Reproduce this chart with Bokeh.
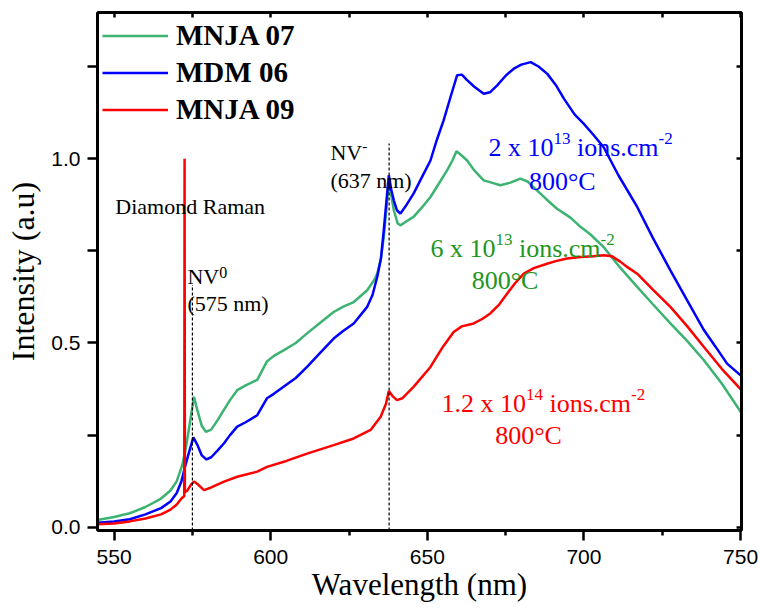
from bokeh.plotting import figure
from bokeh.models import (Range1d, FixedTicker, LinearAxis, Legend, LegendItem,
                          Label, PrintfTickFormatter)
from bokeh.embed import file_html
from bokeh.resources import INLINE

# ---------------- data ----------------
green_wl = [544.7, 550, 555, 560, 565, 568, 570, 571.8, 573, 574.5, 575.5, 576.5, 578, 579.3,
            581, 583, 585, 587, 589.3, 592, 595.7, 598.8, 601, 604.1, 608, 611.6, 616, 620.1,
            623, 626.5, 630.8, 633, 634, 635.2, 636.1, 637, 637.7, 638.5, 639.3, 640.5, 641.4,
            643, 645.6, 648, 651, 653.5, 656.3, 658, 659.3, 660.5, 662.7, 665, 668, 670.5,
            673.3, 676.5, 679.7, 682, 685, 688, 691.4, 695.7, 698.9, 702, 706.3, 711.5, 717,
            722, 727.6, 733, 738.3, 744, 750.3]
green_int = [0.020, 0.028, 0.038, 0.055, 0.078, 0.100, 0.125, 0.170, 0.220, 0.300, 0.354, 0.320,
             0.275, 0.259, 0.265, 0.290, 0.318, 0.345, 0.372, 0.385, 0.400, 0.450, 0.465, 0.480,
             0.500, 0.526, 0.556, 0.584, 0.598, 0.611, 0.643, 0.670, 0.688, 0.730, 0.788, 0.870,
             0.940, 0.900, 0.860, 0.825, 0.819, 0.828, 0.842, 0.865, 0.896, 0.930, 0.968, 0.995,
             1.020, 1.012, 0.995, 0.968, 0.941, 0.935, 0.928, 0.935, 0.946, 0.938, 0.914, 0.890,
             0.864, 0.840, 0.815, 0.795, 0.760, 0.705, 0.652, 0.605, 0.553, 0.505, 0.453, 0.390,
             0.310]

blue_wl = [544.7, 550, 555, 560, 565, 568, 570, 571.5, 572.5, 573.8, 575.3, 576.5, 578, 579.5,
           581, 583, 585.1, 587, 589.3, 592, 595.7, 598.8, 601, 604.1, 608, 611.6, 616, 620.1,
           623, 626.5, 630.8, 632.5, 634, 635.2, 636.1, 637, 637.7, 638.5, 639.3, 640.3, 641.4,
           643, 645.6, 648, 651, 653, 655.2, 657.5, 659.5, 661, 662.7, 665, 668, 670, 672.3,
           675, 677.6, 680, 683, 685.5, 688.3, 691, 693.6, 697, 699.9, 703, 706.3, 711, 717,
           722, 727.6, 733, 738.3, 742, 745.7, 750.3]
blue_int = [0.012, 0.016, 0.022, 0.035, 0.052, 0.070, 0.093, 0.125, 0.160, 0.200, 0.244, 0.225,
            0.195, 0.184, 0.190, 0.208, 0.228, 0.250, 0.273, 0.285, 0.304, 0.350, 0.362, 0.381,
            0.405, 0.435, 0.475, 0.512, 0.532, 0.553, 0.598, 0.630, 0.679, 0.730, 0.806, 0.890,
            0.955, 0.915, 0.887, 0.860, 0.851, 0.870, 0.905, 0.945, 0.995, 1.050, 1.104, 1.170,
            1.226, 1.228, 1.213, 1.195, 1.176, 1.180, 1.199, 1.225, 1.244, 1.255, 1.262, 1.250,
            1.230, 1.200, 1.163, 1.120, 1.095, 1.065, 1.031, 0.955, 0.869, 0.785, 0.697, 0.615,
            0.535, 0.490, 0.444, 0.410]

red_wl = [544.7, 550, 555, 560, 565, 568, 570, 571.5, 572.4, 572.5, 572.6, 573.4, 574.5, 575.5,
          576.5, 578.7, 581, 585.1, 589.3, 595.7, 598.8, 605, 611.6, 620.1, 626.5, 631.9, 635.1,
          636.8, 637.7, 639, 640.3, 642, 645.6, 651, 655, 658.4, 661, 664.8, 667.5, 670.1, 673,
          675.5, 678, 680.8, 684, 688.2, 691, 694.6, 698.9, 703, 706.3, 709, 711.7, 714, 717,
          722, 727.6, 733, 738.3, 744, 750.3]
red_int = [0.008, 0.010, 0.016, 0.024, 0.035, 0.048, 0.062, 0.078, 0.085, 1.000, 0.095, 0.100,
           0.115, 0.124, 0.118, 0.101, 0.108, 0.124, 0.137, 0.151, 0.164, 0.180, 0.200, 0.223,
           0.241, 0.264, 0.300, 0.335, 0.370, 0.355, 0.345, 0.350, 0.381, 0.435, 0.490, 0.530,
           0.545, 0.553, 0.565, 0.580, 0.605, 0.634, 0.662, 0.688, 0.703, 0.715, 0.722, 0.729,
           0.733, 0.735, 0.738, 0.735, 0.720, 0.705, 0.688, 0.645, 0.598, 0.545, 0.489, 0.430,
           0.372]

series_names = ["MNJA 07", "MDM 06", "MNJA 09"]
x_ticks = [550, 600, 650, 700, 750]
x_minor = [575, 625, 675, 725]
y_ticks = [0.0, 0.5, 1.0]
y_minor = [0.25, 0.75, 1.25]

nv_line_x = [575.0, 637.8]
nv_line_top = [0.657, 1.041]

# ---------------- styles ----------------
GREEN = "#3CB371"
BLUE = "#0000FF"
RED = "#FF0000"
GREEN_TXT = "#1E961E"
SERIF = "Liberation Serif"
SANS = "Liberation Sans"

X0, X1 = 544.7, 750.3
Y0, Y1 = -0.0087, 1.3965

p = figure(width=758, height=608, output_backend="svg", toolbar_location=None,
           x_range=Range1d(X0, X1), y_range=Range1d(Y0, Y1),
           min_border_left=97, min_border_right=17, min_border_top=12, min_border_bottom=78)
p.xgrid.visible = False
p.ygrid.visible = False
p.outline_line_color = "black"
p.outline_line_width = 2.5
p.background_fill_color = "white"
p.border_fill_color = "white"

# curves
rg = p.line(green_wl, green_int, line_color=GREEN, line_width=2.5)
rb = p.line(blue_wl, blue_int, line_color=BLUE, line_width=2.5)
rr = p.line(red_wl, red_int, line_color=RED, line_width=2.5)

# dashed marker lines
p.segment(x0=nv_line_x, y0=[Y0] * len(nv_line_x), x1=nv_line_x, y1=nv_line_top,
          line_color="black", line_width=1.2, line_dash="3 2")

# ---------------- axes ----------------
xt = FixedTicker(ticks=x_ticks, minor_ticks=x_minor)
yt = FixedTicker(ticks=y_ticks, minor_ticks=y_minor)

xa = p.xaxis[0]
xa.ticker = xt
xa.axis_label = "Wavelength (nm)"
xa.axis_label_text_font = SERIF
xa.axis_label_text_font_size = "31px"
xa.axis_label_text_font_style = "normal"
xa.axis_label_text_color = "black"
xa.axis_label_standoff = 0
xa.major_label_text_font = SANS
xa.major_label_text_font_size = "21px"
xa.major_label_text_color = "black"
xa.major_label_standoff = 9
xa.major_tick_out = 10
xa.major_tick_in = 0
xa.minor_tick_out = 5
xa.minor_tick_in = 0
xa.axis_line_width = 3
xa.major_tick_line_width = 2.5
xa.minor_tick_line_width = 2.5

ya = p.yaxis[0]
ya.ticker = yt
ya.formatter = PrintfTickFormatter(format="%.1f")
ya.axis_label = "Intensity (a.u)"
ya.axis_label_text_font = SERIF
ya.axis_label_text_font_size = "32px"
ya.axis_label_text_font_style = "normal"
ya.axis_label_text_color = "black"
ya.axis_label_standoff = 7
ya.major_label_text_font = SANS
ya.major_label_text_font_size = "21px"
ya.major_label_text_color = "black"
ya.major_label_standoff = 7
ya.major_tick_out = 10
ya.major_tick_in = 0
ya.minor_tick_out = 10
ya.minor_tick_in = 0
ya.axis_line_width = 3
ya.major_tick_line_width = 2.5
ya.minor_tick_line_width = 2.5

for loc, tk in (("right", yt), ("above", xt)):
    ax = LinearAxis(ticker=tk, major_label_text_font_size="1px", major_label_text_color=None,
                    major_label_standoff=0,
                    major_tick_in=5, major_tick_out=0, minor_tick_in=5, minor_tick_out=0,
                    axis_line_width=3, major_tick_line_width=2.5, minor_tick_line_width=2.5)
    p.add_layout(ax, loc)

# ---------------- legend ----------------
legend = Legend(items=[LegendItem(label=series_names[0], renderers=[rg]),
                       LegendItem(label=series_names[1], renderers=[rb]),
                       LegendItem(label=series_names[2], renderers=[rr])],
                location="top_left", margin=5, padding=6, spacing=-1,
                glyph_width=66, glyph_height=37, label_height=37, label_standoff=8,
                label_text_font=SERIF, label_text_font_style="bold",
                label_text_font_size="29px", label_text_color="black",
                border_line_color=None, background_fill_alpha=0)
p.add_layout(legend)

# ---------------- annotations ----------------
TW = {' ': 250, 'x': 500, 'i': 278, 'o': 500, 'n': 500, 's': 389, '.': 250, 'c': 444,
      'm': 778, '-': 333, '°': 400, 'C': 667, 'N': 722, 'V': 722, '(': 333, ')': 333}


def tw(s, size):
    return sum(TW.get(ch, 500) for ch in s) * size / 1000.0


def rich(x, y, parts, color, size, sup_size, rise):
    off = 0.0
    for txt, sup in parts:
        fs = sup_size if sup else size
        lead = len(txt) - len(txt.lstrip(" "))
        off += tw(" " * lead, fs)
        core = txt.lstrip(" ")
        p.add_layout(Label(x=x, y=y, x_offset=off, y_offset=rise if sup else 0, text=core,
                           text_font=SERIF, text_font_size=f"{fs}px", text_color=color,
                           text_align="left", text_baseline="alphabetic"))
        off += tw(core, fs)


def plain(x, y, txt, color, size, align="left"):
    p.add_layout(Label(x=x, y=y, text=txt, text_font=SERIF, text_font_size=f"{size}px",
                       text_color=color, text_align=align, text_baseline="alphabetic"))


rich(669.5, 1.031, [("2 x 10", False), ("13", True), (" ions.cm", False), ("-2", True)],
     BLUE, 26, 17, 9)
plain(693.1, 0.938, "800°C", BLUE, 26, "center")
rich(651.0, 0.757, [("6 x 10", False), ("13", True), (" ions.cm", False), ("-2", True)],
     GREEN_TXT, 26, 17, 9)
plain(674.8, 0.670, "800°C", GREEN_TXT, 26, "center")
rich(654.5, 0.337, [("1.2 x 10", False), ("14", True), (" ions.cm", False), ("-2", True)],
     RED, 26, 17, 9)
plain(682.3, 0.248, "800°C", RED, 26, "center")

rich(619.05, 1.017, [("NV", False), ("-", True)], "black", 22, 15, 6)
plain(619.05, 0.941, "(637 nm)", "black", 22)
plain(550.4, 0.871, "Diamond Raman", "black", 22)
rich(573.4, 0.681, [("NV", False), ("0", True)], "black", 22, 16, 4)
plain(573.4, 0.608, "(575 nm)", "black", 22)

open("out.html", "w").write(file_html(p, INLINE))
